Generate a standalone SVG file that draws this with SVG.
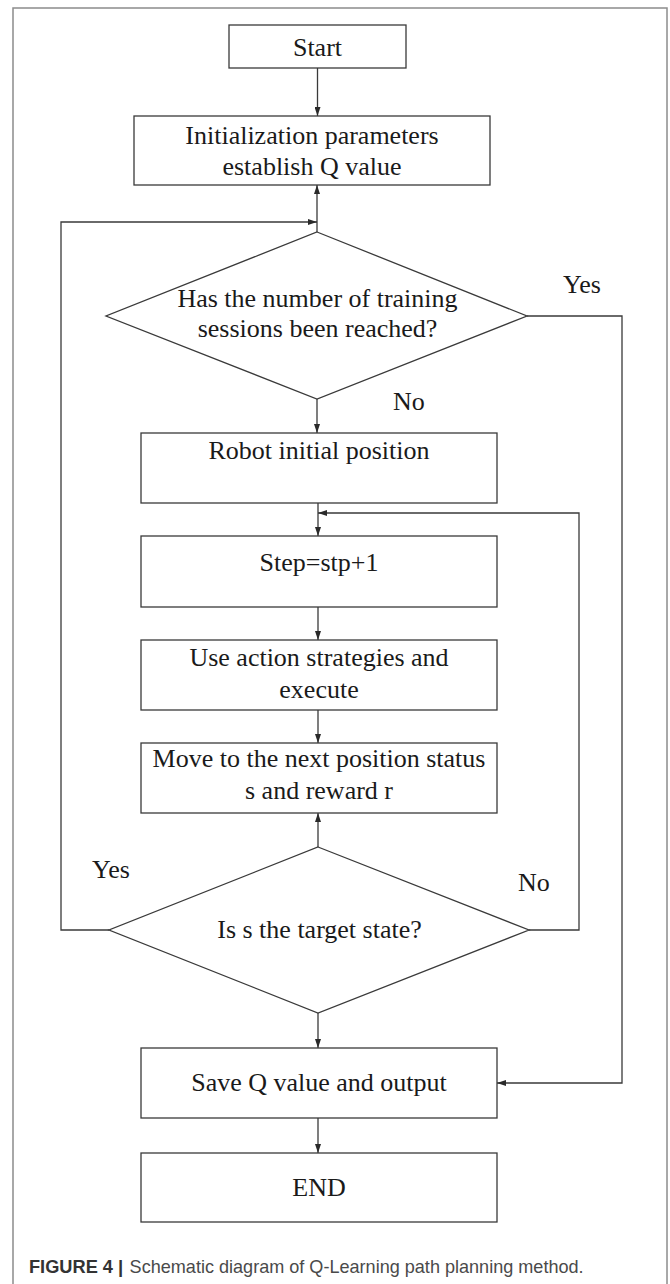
<svg xmlns="http://www.w3.org/2000/svg" width="670" height="1284" viewBox="0 0 670 1284">
  <style>
    .box { fill: #ffffff; stroke: #3a3a3a; stroke-width: 1.3; }
    .lbl { font-family: "Liberation Serif", "Times New Roman", serif; font-size: 26px; fill: #1a1a1a; }
    .mid { text-anchor: middle; }
    .edge { fill: none; stroke: #3a3a3a; stroke-width: 1.3; }
    .cap { font-family: "Liberation Sans", Arial, sans-serif; font-size: 18.5px; }
  </style>
  <defs>
    <marker id="arrow" markerUnits="userSpaceOnUse" markerWidth="9" markerHeight="6" refX="9" refY="3" orient="auto">
      <path d="M0,0 L9,3 L0,6 z" fill="#2a2a2a"/>
    </marker>
  </defs>

  <!-- panel frame -->
  <rect x="13" y="8" width="654" height="1290" fill="#ffffff" stroke="#8c8c8c" stroke-width="1.5"/>

  <!-- connectors -->
  <g id="connectors">
    <line class="edge" x1="317.5" y1="68" x2="317.5" y2="116" marker-end="url(#arrow)"/>
    <line class="edge" x1="317" y1="232" x2="317" y2="185" marker-end="url(#arrow)"/>
    <polyline class="edge" points="109,930 61,930 61,222 317,222" marker-end="url(#arrow)"/>
    <line class="edge" x1="317" y1="399" x2="317" y2="433" marker-end="url(#arrow)"/>
    <polyline class="edge" points="527,316 622,316 622,1083 497,1083" marker-end="url(#arrow)"/>
    <line class="edge" x1="318" y1="503" x2="318" y2="536" marker-end="url(#arrow)"/>
    <polyline class="edge" points="529,930 579,930 579,513 318,513" marker-end="url(#arrow)"/>
    <line class="edge" x1="318" y1="607" x2="318" y2="640" marker-end="url(#arrow)"/>
    <line class="edge" x1="318" y1="710" x2="318" y2="743" marker-end="url(#arrow)"/>
    <line class="edge" x1="318" y1="847" x2="318" y2="813" marker-end="url(#arrow)"/>
    <line class="edge" x1="318" y1="1013" x2="318" y2="1048" marker-end="url(#arrow)"/>
    <line class="edge" x1="318" y1="1118" x2="318" y2="1153" marker-end="url(#arrow)"/>
    <text class="lbl" x="563" y="293">Yes</text>
    <text class="lbl" x="393" y="410">No</text>
    <text class="lbl" x="92" y="878">Yes</text>
    <text class="lbl" x="518" y="891">No</text>
  </g>

  <g id="start">
    <rect class="box" x="229" y="25" width="177" height="43"/>
    <text class="lbl mid" x="317.5" y="55.5">Start</text>
  </g>

  <g id="init">
    <rect class="box" x="134" y="116" width="356" height="69"/>
    <text class="lbl mid" x="312" y="144">Initialization parameters</text>
    <text class="lbl mid" x="312" y="175">establish Q value</text>
  </g>

  <g id="check-episodes">
    <polygon class="box" points="317,232 527,316 317,399 106,316"/>
    <text class="lbl mid" x="317.5" y="307">Has the number of training</text>
    <text class="lbl mid" x="317.5" y="336.5">sessions been reached?</text>
  </g>

  <g id="robot-init">
    <rect class="box" x="141" y="433" width="356" height="70"/>
    <text class="lbl mid" x="319" y="459">Robot initial position</text>
  </g>

  <g id="step">
    <rect class="box" x="141" y="536" width="356" height="71"/>
    <text class="lbl mid" x="319" y="571">Step=stp+1</text>
  </g>

  <g id="act">
    <rect class="box" x="141" y="640" width="356" height="70"/>
    <text class="lbl mid" x="319" y="666">Use action strategies and</text>
    <text class="lbl mid" x="319" y="697.5">execute</text>
  </g>

  <g id="move">
    <rect class="box" x="141" y="743" width="356" height="70"/>
    <text class="lbl mid" x="319" y="767">Move to the next position status</text>
    <text class="lbl mid" x="319" y="798.5">s and reward r</text>
  </g>

  <g id="check-target">
    <polygon class="box" points="318,847 529,930 318,1013 109,930"/>
    <text class="lbl mid" x="319.5" y="937.5">Is s the target state?</text>
  </g>

  <g id="save">
    <rect class="box" x="141" y="1048" width="356" height="70"/>
    <text class="lbl mid" x="319" y="1091">Save Q value and output</text>
  </g>

  <g id="end">
    <rect class="box" x="141" y="1153" width="356" height="69"/>
    <text class="lbl mid" x="319" y="1196">END</text>
  </g>

  <!-- caption -->
  <g id="caption">
    <text class="cap" x="29" y="1273" font-weight="bold" fill="#333333" textLength="84" lengthAdjust="spacingAndGlyphs">FIGURE 4</text>
    <text class="cap" x="118" y="1273" font-weight="bold" fill="#333333">|</text>
    <text class="cap" x="129.6" y="1273" fill="#4a4a4a" textLength="454" lengthAdjust="spacingAndGlyphs">Schematic diagram of Q-Learning path planning method.</text>
  </g>
</svg>
